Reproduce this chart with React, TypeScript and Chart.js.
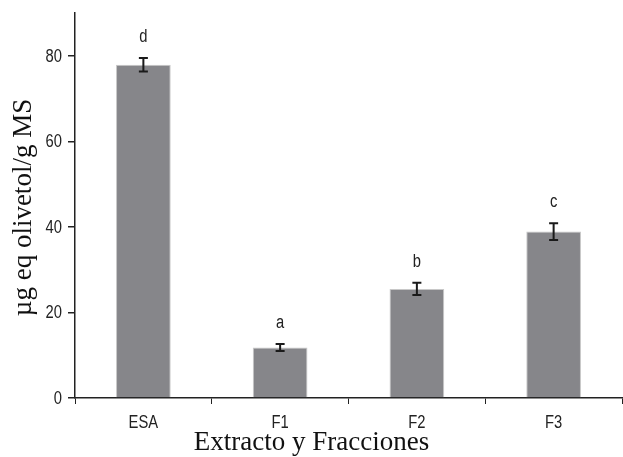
import React, { useEffect, useRef } from "react";
import { Chart, registerables } from "chart.js";

Chart.register(...registerables);

const categories = ["ESA", "F1", "F2", "F3"];
const values = [77.9, 11.8, 25.5, 38.9];
const errors = [1.56, 0.82, 1.45, 1.95];
const letters = ["d", "a", "b", "c"];
const yTicks = [0, 20, 40, 60, 80];
const yTitle = "µg eq olivetol/g MS";
const xTitle = "Extracto y Fracciones";

const SANS = '"Liberation Sans", Arial, sans-serif';
const SERIF = '"Liberation Serif", "Times New Roman", serif';
const SQUEEZE = 0.82;

function narrowText(ctx: any, text: string, x: number, y: number, align: string, baseline: string) {
  ctx.save();
  ctx.font = "18px " + SANS;
  ctx.fillStyle = "#222";
  ctx.textAlign = align;
  ctx.textBaseline = baseline;
  ctx.translate(x, y);
  ctx.scale(SQUEEZE, 1);
  ctx.fillText(text, 0, 0);
  ctx.restore();
}

const annotate = {
  id: "annotate",
  afterDraw(chart: any) {
    const ctx = chart.ctx;
    const y = chart.scales.y;
    const xs = chart.scales.x;
    const meta = chart.getDatasetMeta(0);
    meta.data.forEach((bar: any, i: number) => {
      const x = bar.x;
      const top = y.getPixelForValue(values[i] + errors[i]);
      const bot = y.getPixelForValue(values[i] - errors[i]);
      ctx.save();
      ctx.strokeStyle = "#1a1a1a";
      ctx.lineWidth = 2;
      ctx.beginPath();
      ctx.moveTo(x, top);
      ctx.lineTo(x, bot);
      ctx.moveTo(x - 4.5, top);
      ctx.lineTo(x + 4.5, top);
      ctx.moveTo(x - 4.5, bot);
      ctx.lineTo(x + 4.5, bot);
      ctx.stroke();
      ctx.restore();
      narrowText(ctx, letters[i], x, top - 16, "center", "alphabetic");
    });
    // tick labels
    yTicks.forEach((v) => {
      narrowText(ctx, String(v), 62, y.getPixelForValue(v) + 1, "right", "middle");
    });
    categories.forEach((c, i) => {
      narrowText(ctx, c, xs.getPixelForValue(i), 428, "center", "alphabetic");
    });
    const area = chart.chartArea;
    ctx.save();
    ctx.fillStyle = "#111";
    ctx.font = "27px " + SERIF;
    ctx.textAlign = "center";
    ctx.textBaseline = "alphabetic";
    ctx.fillText(xTitle, chart.width / 2, 450);
    ctx.translate(31, (area.top + area.bottom) / 2 + 2);
    ctx.rotate(-Math.PI / 2);
    ctx.fillText(yTitle, 0, 0);
    ctx.restore();
  },
};

export default function App() {
  const ref = useRef<HTMLCanvasElement>(null);
  useEffect(() => {
    if (!ref.current) return;
    const chart = new Chart(ref.current, {
      type: "bar",
      data: {
        labels: categories,
        datasets: [
          {
            data: values,
            backgroundColor: "#86868a",
            borderColor: "#c8c8c8",
            borderWidth: 1,
            categoryPercentage: 1,
            barPercentage: 0.4,
          },
        ],
      },
      options: {
        animation: false,
        responsive: false,
        devicePixelRatio: 1,
        layout: { padding: { top: 13, right: 1, left: 0, bottom: 0 } },
        plugins: { legend: { display: false }, tooltip: { enabled: false } },
        scales: {
          x: {
            offset: true,
            grid: {
              offset: true,
              drawOnChartArea: false,
              drawTicks: true,
              tickLength: 6,
              color: "#222",
              lineWidth: 1,
            },
            border: { display: true, color: "#222", width: 1.5 },
            ticks: { display: false },
            afterFit: (s: any) => {
              s.height = 59;
            },
          },
          y: {
            min: 0,
            max: 90,
            afterBuildTicks: (s: any) => {
              s.ticks = yTicks.map((v) => ({ value: v }));
            },
            grid: {
              drawOnChartArea: false,
              drawTicks: true,
              tickLength: 7,
              color: "#222",
              lineWidth: 1.5,
            },
            border: { display: true, color: "#222", width: 1.5 },
            ticks: { display: false },
            afterFit: (s: any) => {
              s.width = 75;
            },
          },
        },
      },
      plugins: [annotate],
    });
    return () => chart.destroy();
  }, []);
  return (
    <div style={{ position: "fixed", left: 0, top: 0, width: 623, height: 457, background: "#fff" }}>
      <canvas ref={ref} width={623} height={457} style={{ display: "block" }} />
    </div>
  );
}
